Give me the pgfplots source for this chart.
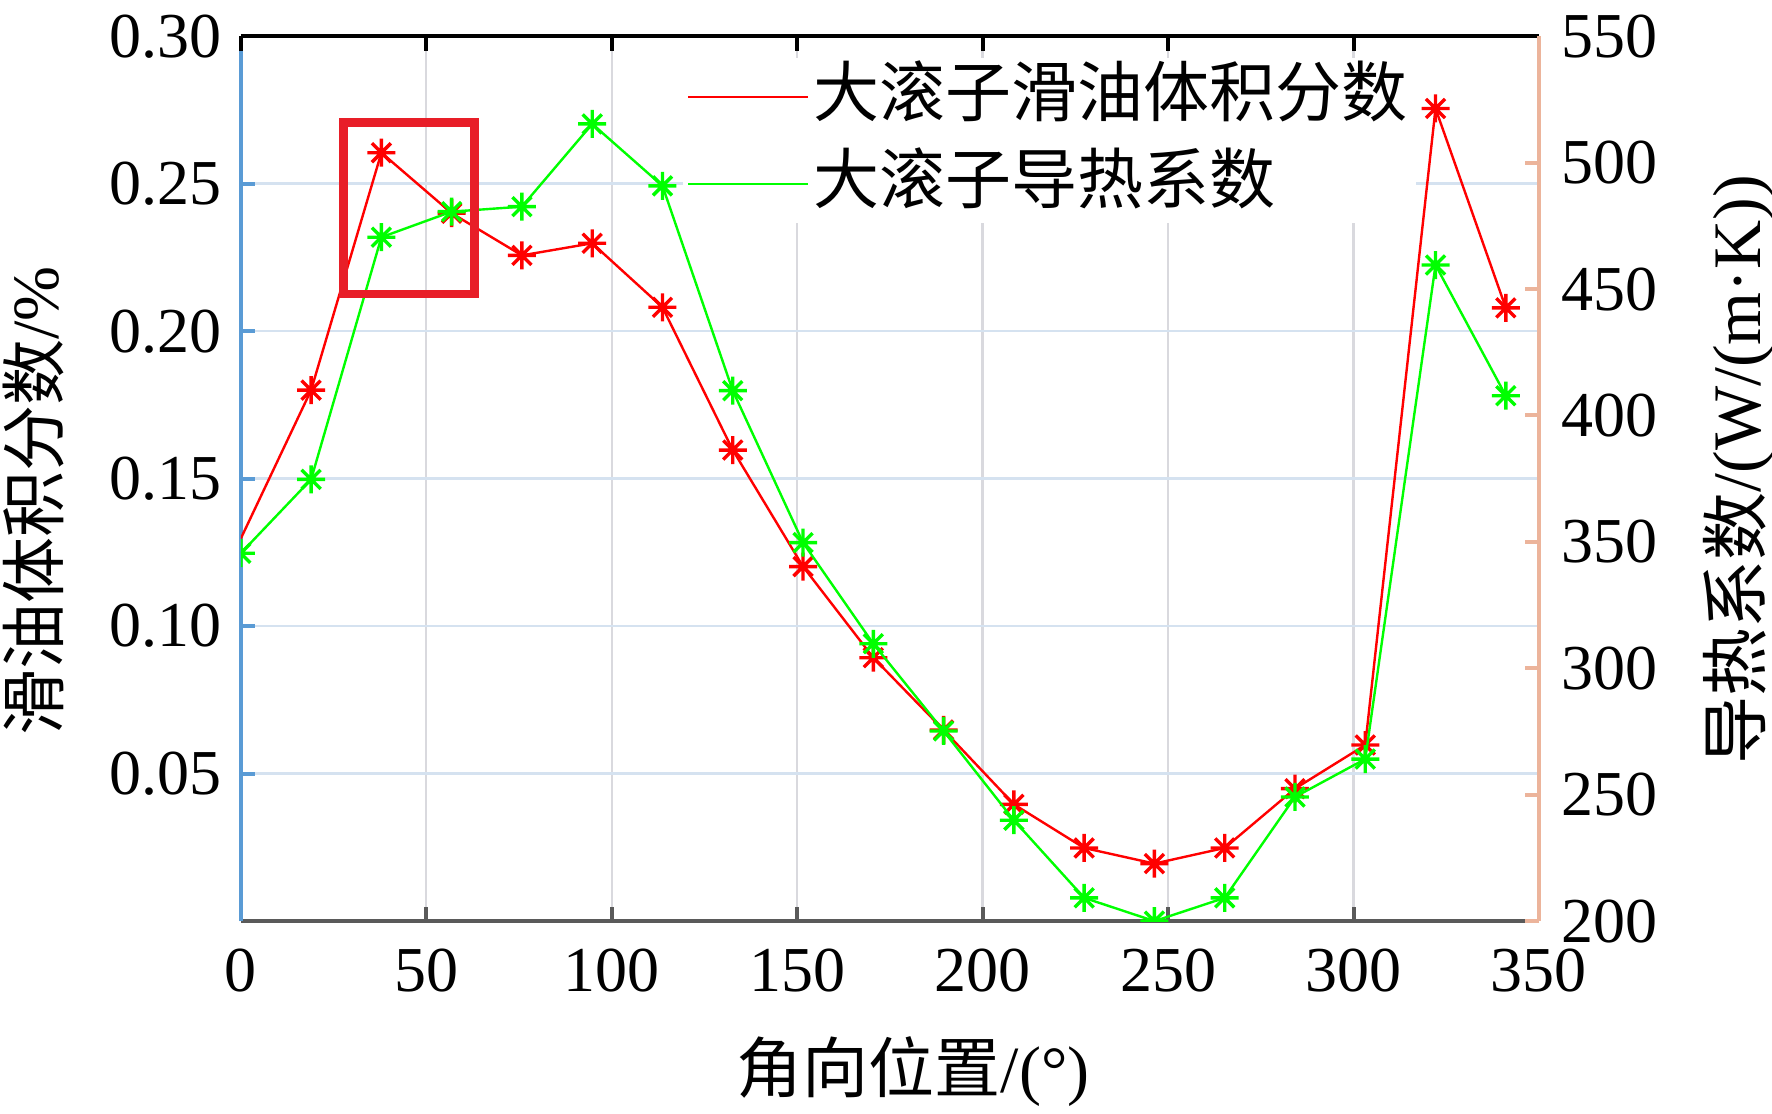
\documentclass[border=0pt]{standalone}
\usepackage{fontspec}
\setmainfont{Liberation Serif}
\newfontfamily\cjk{Noto Sans CJK SC}
\usepackage{pgfplots}
\pgfplotsset{compat=1.18}

\definecolor{axblue}{RGB}{90,155,213}
\definecolor{axsalmon}{RGB}{236,180,155}
\definecolor{axgray}{RGB}{90,90,90}
\definecolor{gridgray}{RGB}{217,217,222}
\definecolor{gridblue}{RGB}{213,226,240}
\definecolor{rectred}{RGB}{232,30,40}
\definecolor{datred}{RGB}{255,0,0}
\definecolor{datgreen}{RGB}{0,255,0}

\pgfdeclareplotmark{mast}{%
  \pgfpathmoveto{\pgfqpoint{-\pgfplotmarksize}{0pt}}%
  \pgfpathlineto{\pgfqpoint{\pgfplotmarksize}{0pt}}%
  \pgfpathmoveto{\pgfqpoint{0pt}{-\pgfplotmarksize}}%
  \pgfpathlineto{\pgfqpoint{0pt}{\pgfplotmarksize}}%
  \pgfpathmoveto{\pgfqpoint{-.68\pgfplotmarksize}{-.68\pgfplotmarksize}}%
  \pgfpathlineto{\pgfqpoint{.68\pgfplotmarksize}{.68\pgfplotmarksize}}%
  \pgfpathmoveto{\pgfqpoint{-.68\pgfplotmarksize}{.68\pgfplotmarksize}}%
  \pgfpathlineto{\pgfqpoint{.68\pgfplotmarksize}{-.68\pgfplotmarksize}}%
  \pgfusepathqstroke}

\pgfplotstableread{
x red
0.000 0.1297
18.947 0.1800
37.895 0.2605
56.842 0.2400
75.789 0.2257
94.737 0.2298
113.684 0.2081
132.632 0.1597
151.579 0.1202
170.526 0.0893
189.474 0.0648
208.421 0.0396
227.368 0.0248
246.316 0.0195
265.263 0.0248
284.211 0.0449
303.158 0.0597
322.105 0.2755
341.053 0.2079
}\redtab

\pgfplotstableread{
x green
0.000 345.5
18.947 374.7
37.895 470.5
56.842 480.6
75.789 482.6
94.737 515.3
113.684 490.8
132.632 409.8
151.579 349.7
170.526 309.7
189.474 275.2
208.421 239.9
227.368 209.2
246.316 200.0
265.263 209.2
284.211 249.1
303.158 264.1
322.105 459.5
341.053 407.8
}\greentab

\begin{document}
\begin{tikzpicture}
\pgfplotsset{
  base/.style={
    width=324.5pt, height=221.2pt, scale only axis,
    xmin=0, xmax=350, xtick={0,50,...,350},
    enlargelimits=false,
    tick align=inside, major tick length=3.6pt,
    /pgf/number format/assume math mode=true,
    tick label style={font=\fontsize{16}{19}\selectfont},
    label style={font=\fontsize{16.5}{20}\selectfont},
    clip marker paths=true,
  }
}
\begin{axis}[base,
  axis x line*=bottom, axis y line*=left,
  x axis line style={-, draw=axgray, line width=1pt},
  y axis line style={-, draw=axblue, line width=1pt},
  x tick style={draw=axgray, line width=1pt},
  y tick style={draw=axblue, line width=1pt},
  ymin=0, ymax=0.30, ytick={0.05,0.10,0.15,0.20,0.25,0.30},
  yticklabel style={/pgf/number format/.cd, fixed, fixed zerofill, precision=2, /tikz/.cd, xshift=-1.3pt},
  xticklabel style={yshift=-3.4pt},
  xmajorgrids, ymajorgrids,
  x grid style={draw=gridgray, line width=0.6pt},
  y grid style={draw=gridblue, line width=0.6pt},
  xlabel={{\cjk 角向位置}/(°)},
  ylabel={{\cjk 滑油体积分数}/\%},
  xlabel style={at={(axis description cs:0.518,-0.1695)}, anchor=center},
  ylabel style={at={(axis description cs:-0.160,0.475)}, anchor=center},
]
\coordinate (SW) at (rel axis cs:0,0);
\coordinate (NE) at (rel axis cs:1,1);
\addplot[color=datred, line width=0.6pt, mark=mast, mark size=3.5pt,
  mark options={line width=0.85pt, solid},
  mark indices={2,3,4,5,6,7,8,9,10,11,12,13,14,15,16,17,18,19}]
  table[x=x, y=red] {\redtab};
\end{axis}

\begin{axis}[base,
  axis x line*=top, axis y line*=right,
  x axis line style={-, draw=black, line width=1pt},
  x tick style={draw=black, line width=1pt},
  y axis line style={-, draw=axsalmon, line width=1pt},
  y tick style={draw=axsalmon, line width=1pt},
  xticklabel={\mbox{}},
  ymin=200, ymax=550, ytick={200,250,...,550},
  yticklabel style={xshift=2pt},
  ylabel={{\cjk 导热系数}/(W/(m·K))},
  ylabel style={at={(axis description cs:1.154,0.51)}, anchor=center, font=\fontsize{17}{20}\selectfont},
  legend style={at={(axis description cs:0.340,0.976)}, anchor=north west,
    draw=none, fill=white, inner xsep=1pt, inner ysep=1pt, row sep=4.25pt,
    font=\fontsize{16.5}{20}\selectfont,
    nodes={inner sep=1pt, text height=12.5pt, text depth=3pt},
    /tikz/every even column/.append style={column sep=2.5pt}},
  legend image code/.code={\draw[#1, mark=none] (0pt,0pt) -- (30pt,0pt);},
  legend cell align=left,
]
\addlegendimage{color=datred, line width=0.6pt}
\addlegendentry{{\cjk 大滚子滑油体积分数}}
\addplot[color=datgreen, line width=0.6pt, mark=mast, mark size=3.5pt,
  mark options={line width=0.85pt, solid}]
  table[x=x, y=green] {\greentab};
\addlegendentry{{\cjk 大滚子导热系数}}
\draw[rectred, line width=2.1pt] (axis cs:27.7,448.0) rectangle (axis cs:63.0,515.9);
\end{axis}

\pgfresetboundingbox
\path[use as bounding box] ([shift={(-60.2pt,-48pt)}]SW) rectangle ([shift={(58.25pt,9.05pt)}]NE);
\end{tikzpicture}
\end{document}
